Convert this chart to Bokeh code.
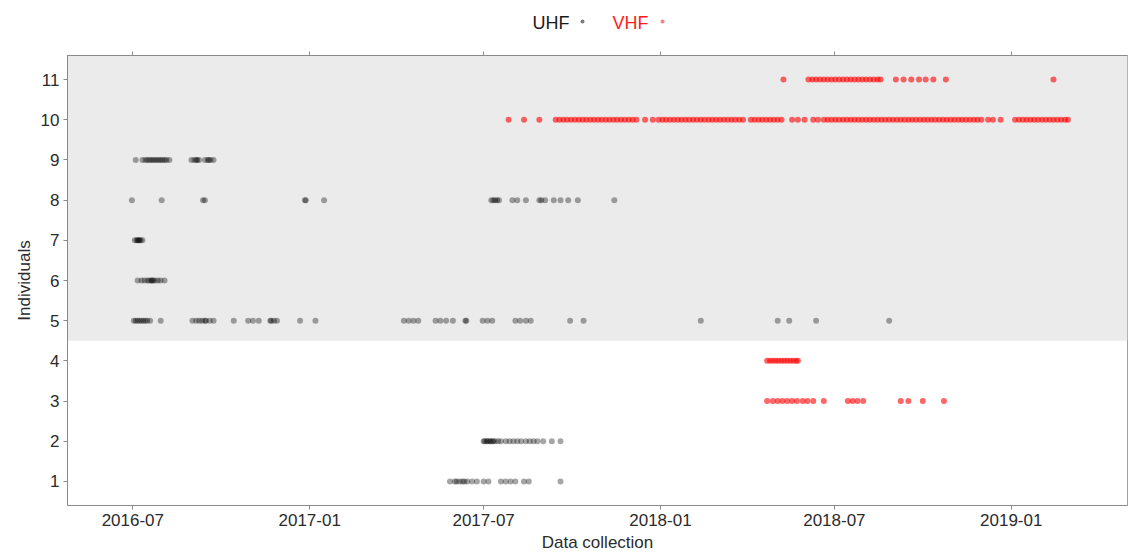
import pandas as pd
from bokeh.plotting import figure
from bokeh.layouts import column
from bokeh.models import (Range1d, BoxAnnotation, FixedTicker, DatetimeTickFormatter,
                          DatetimeAxis, ColumnDataSource)
from bokeh.core.properties import value
from bokeh.embed import file_html
from bokeh.resources import INLINE

# ---------------- data ----------------
x_start = "2016-04-24"
x_end = "2019-05-02"
x_tick_dates = ["2016-07-01", "2017-01-01", "2017-07-01", "2018-01-01", "2018-07-01", "2019-01-01"]
y_ticks = [1, 2, 3, 4, 5, 6, 7, 8, 9, 10, 11]
series_names = ["UHF", "VHF"]

uhf_9 = ["2016-07-04", "2016-07-11", "2016-07-14", "2016-07-16", "2016-07-18", "2016-07-20",
         "2016-07-22", "2016-07-24", "2016-07-26", "2016-07-28", "2016-07-30", "2016-08-01",
         "2016-08-03", "2016-08-05", "2016-08-08", "2016-08-31", "2016-09-03", "2016-09-05",
         "2016-09-06", "2016-09-08", "2016-09-14", "2016-09-17", "2016-09-18", "2016-09-20",
         "2016-09-23"]
uhf_8 = ["2016-06-30", "2016-07-31", "2016-09-12", "2016-09-14", "2016-12-27", "2016-12-28",
         "2017-01-16", "2017-07-09", "2017-07-11", "2017-07-13", "2017-07-15", "2017-07-17",
         "2017-07-31", "2017-08-05", "2017-08-14", "2017-08-28", "2017-08-30", "2017-09-03",
         "2017-09-12", "2017-09-19", "2017-09-27", "2017-10-07", "2017-11-14"]
uhf_7 = ["2016-07-03", "2016-07-05", "2016-07-06", "2016-07-07", "2016-07-08", "2016-07-09",
         "2016-07-11"]
uhf_6 = ["2016-07-06", "2016-07-10", "2016-07-13", "2016-07-16", "2016-07-18", "2016-07-20",
         "2016-07-21", "2016-07-22", "2016-07-24", "2016-07-27", "2016-07-30", "2016-08-03"]
uhf_5 = ["2016-07-02", "2016-07-04", "2016-07-06", "2016-07-08", "2016-07-10", "2016-07-12",
         "2016-07-14", "2016-07-16", "2016-07-19", "2016-07-30", "2016-09-01", "2016-09-05",
         "2016-09-08", "2016-09-11", "2016-09-14", "2016-09-15", "2016-09-19", "2016-09-23",
         "2016-10-14", "2016-10-29", "2016-11-03", "2016-11-09", "2016-11-21", "2016-11-22",
         "2016-11-25", "2016-11-28", "2016-12-22", "2017-01-07", "2017-04-09", "2017-04-14",
         "2017-04-19", "2017-04-24", "2017-05-12", "2017-05-17", "2017-05-23", "2017-05-30",
         "2017-06-12", "2017-06-13", "2017-06-30", "2017-07-05", "2017-07-10", "2017-08-03",
         "2017-08-08", "2017-08-14", "2017-08-19", "2017-09-29", "2017-10-13", "2018-02-12",
         "2018-05-03", "2018-05-15", "2018-06-12", "2018-08-27"]
uhf_2 = ["2017-07-01", "2017-07-02", "2017-07-04", "2017-07-05", "2017-07-07", "2017-07-08",
         "2017-07-10", "2017-07-11", "2017-07-13", "2017-07-16", "2017-07-19", "2017-07-24",
         "2017-07-28", "2017-08-01", "2017-08-05", "2017-08-09", "2017-08-14", "2017-08-18",
         "2017-08-22", "2017-08-26", "2017-09-01", "2017-09-10", "2017-09-19"]
uhf_1 = ["2017-05-27", "2017-06-01", "2017-06-03", "2017-06-06", "2017-06-09", "2017-06-11",
         "2017-06-14", "2017-06-19", "2017-06-24", "2017-07-01", "2017-07-06", "2017-07-19",
         "2017-07-24", "2017-07-29", "2017-08-03", "2017-08-12", "2017-08-17", "2017-09-19"]

vhf_11 = ["2018-05-09", "2018-06-04", "2018-06-08", "2018-06-12", "2018-06-16", "2018-06-20",
          "2018-06-24", "2018-06-28", "2018-07-02", "2018-07-06", "2018-07-10", "2018-07-14",
          "2018-07-18", "2018-07-22", "2018-07-26", "2018-07-30", "2018-08-03", "2018-08-07",
          "2018-08-11", "2018-08-15", "2018-08-18", "2018-09-03", "2018-09-11", "2018-09-19",
          "2018-09-27", "2018-10-04", "2018-10-12", "2018-10-25", "2019-02-14"]
vhf_10 = ["2017-07-27", "2017-08-12", "2017-08-28",
          "2017-09-14", "2017-09-18", "2017-09-22", "2017-09-26", "2017-09-30", "2017-10-04",
          "2017-10-08", "2017-10-12", "2017-10-16", "2017-10-20", "2017-10-24", "2017-10-28",
          "2017-11-01", "2017-11-05", "2017-11-09", "2017-11-13", "2017-11-17", "2017-11-21",
          "2017-11-25", "2017-11-29", "2017-12-03", "2017-12-07",
          "2017-12-16", "2017-12-24", "2017-12-30",
          "2018-01-03", "2018-01-07", "2018-01-11", "2018-01-15", "2018-01-19", "2018-01-23",
          "2018-01-27", "2018-01-31", "2018-02-04", "2018-02-08", "2018-02-12", "2018-02-16",
          "2018-02-20", "2018-02-24", "2018-02-28", "2018-03-04", "2018-03-08", "2018-03-12",
          "2018-03-16", "2018-03-20", "2018-03-24", "2018-03-28",
          "2018-04-05", "2018-04-09", "2018-04-13", "2018-04-17", "2018-04-21", "2018-04-25",
          "2018-04-29", "2018-05-03", "2018-05-07",
          "2018-05-18", "2018-05-24", "2018-05-31",
          "2018-06-09", "2018-06-14", "2018-06-20",
          "2018-06-24", "2018-06-28", "2018-07-02", "2018-07-06", "2018-07-10", "2018-07-14",
          "2018-07-18", "2018-07-22", "2018-07-26", "2018-07-30", "2018-08-03", "2018-08-07",
          "2018-08-11", "2018-08-15", "2018-08-19", "2018-08-23", "2018-08-27", "2018-08-31",
          "2018-09-04", "2018-09-08", "2018-09-12", "2018-09-16", "2018-09-20", "2018-09-24",
          "2018-09-28", "2018-10-02", "2018-10-06", "2018-10-10", "2018-10-14", "2018-10-18",
          "2018-10-22", "2018-10-26", "2018-10-30", "2018-11-03", "2018-11-07", "2018-11-11",
          "2018-11-15", "2018-11-19", "2018-11-23", "2018-11-27", "2018-12-01",
          "2018-12-08", "2018-12-13", "2018-12-21",
          "2019-01-05", "2019-01-09", "2019-01-13", "2019-01-17", "2019-01-21", "2019-01-25",
          "2019-01-29", "2019-02-02", "2019-02-06", "2019-02-10", "2019-02-14", "2019-02-18",
          "2019-02-22", "2019-02-26", "2019-03-01"]
vhf_4 = ["2018-04-22", "2018-04-25", "2018-04-28", "2018-05-01", "2018-05-04", "2018-05-07",
         "2018-05-10", "2018-05-13", "2018-05-16", "2018-05-19", "2018-05-22", "2018-05-24"]
vhf_3 = ["2018-04-22", "2018-04-28", "2018-05-03", "2018-05-08", "2018-05-13", "2018-05-18",
         "2018-05-23", "2018-05-29", "2018-06-03", "2018-06-09", "2018-06-20", "2018-07-15",
         "2018-07-20", "2018-07-25", "2018-07-31", "2018-09-08", "2018-09-16", "2018-10-01",
         "2018-10-23"]

uhf_rows = {9: uhf_9, 8: uhf_8, 7: uhf_7, 6: uhf_6, 5: uhf_5, 2: uhf_2, 1: uhf_1}
vhf_rows = {11: vhf_11, 10: vhf_10, 4: vhf_4, 3: vhf_3}


def build(rows):
    xs, ys = [], []
    for ind, dates in rows.items():
        xs += list(pd.to_datetime(dates))
        ys += [ind] * len(dates)
    return ColumnDataSource(dict(x=xs, y=ys))


uhf_src = build(uhf_rows)
vhf_src = build(vhf_rows)

FONT = "Liberation Sans"
AXIS_GREY = "#8a8a8a"
TEXT = "#2b2b2b"
W = 1129
LEG_H = 40
FRAME_L, FRAME_R = 67, 1127   # the column aligns both frames to these pixels

# ---------------- legend strip (text followed by its marker) ----------------
leg = figure(width=W, height=LEG_H, output_backend="svg", toolbar_location=None,
             x_range=Range1d(FRAME_L, FRAME_R), y_range=Range1d(0, LEG_H),
             x_axis_location=None, y_axis_location=None,
             min_border=0, outline_line_color=None)
leg.grid.visible = False
leg.text(x=[532, 612], y=[18, 18], text=series_names, text_font=value(FONT),
         text_font_size="18px", text_color=["#1a1a1a", "#ff1a1a"],
         text_baseline="middle", text_align="left")
leg.scatter(x=[582, 662], y=[19, 19], size=4, fill_color=["#7a7a7a", "#ff8080"],
            line_color=None)

# ---------------- main plot ----------------
p = figure(width=W, height=558 - LEG_H, output_backend="svg", toolbar_location=None,
           x_axis_type="datetime",
           x_range=Range1d(pd.Timestamp(x_start), pd.Timestamp(x_end)),
           y_range=Range1d(0.4, 11.6),
           min_border_left=FRAME_L, min_border_right=W - FRAME_R, min_border_top=55 - LEG_H,
           min_border_bottom=53)
p.grid.visible = False
p.background_fill_color = "white"
p.border_fill_color = "white"
p.outline_line_color = "#a0a0a0"
p.outline_line_width = 1

p.add_layout(BoxAnnotation(bottom=4.5, fill_color="#ebebeb", fill_alpha=1.0,
                           line_color=None, level="underlay"))

tick_ms = [pd.Timestamp(d).value // 10**6 for d in x_tick_dates]
xa = p.xaxis[0]
xa.ticker = FixedTicker(ticks=tick_ms)
xa.formatter = DatetimeTickFormatter(days="%Y-%m", months="%Y-%m", years="%Y-%m")
xa.axis_label = "Data collection"
ya = p.yaxis[0]
ya.ticker = FixedTicker(ticks=y_ticks)
ya.axis_label = "Individuals"

for ax in (xa, ya):
    ax.axis_line_color = AXIS_GREY
    ax.major_tick_line_color = AXIS_GREY
    ax.major_tick_out = 4
    ax.major_tick_in = 0
    ax.minor_tick_line_color = None
    ax.major_label_text_font = FONT
    ax.major_label_text_font_size = "17px"
    ax.major_label_text_color = TEXT
    ax.axis_label_text_font = FONT
    ax.axis_label_text_font_size = "17px"
    ax.axis_label_text_font_style = "normal"
    ax.axis_label_text_color = TEXT
    ax.major_label_standoff = 4
    ax.axis_label_standoff = 4

top = DatetimeAxis(ticker=FixedTicker(ticks=tick_ms), axis_line_color=AXIS_GREY,
                   major_tick_line_color=AXIS_GREY, major_tick_out=4, major_tick_in=0,
                   minor_tick_line_color=None, major_label_text_font_size="0px",
                   major_label_text_color=None)
p.add_layout(top, "above")

p.scatter("x", "y", source=uhf_src, size=6, fill_color="black", fill_alpha=0.35,
          line_color=None)
p.scatter("x", "y", source=vhf_src, size=6, fill_color="#ff0000", fill_alpha=0.6,
          line_color=None)

layout = column(leg, p, spacing=0)
open("out.html", "w").write(file_html(layout, INLINE))
